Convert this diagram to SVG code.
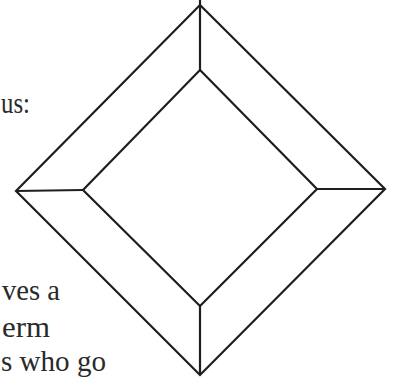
<svg xmlns="http://www.w3.org/2000/svg" width="396" height="377" viewBox="0 0 396 377">
<style>
.ln{fill:none;stroke:#1e1e1e;stroke-width:2.2;stroke-linejoin:miter}
.tx{font-family:"Liberation Serif","Times New Roman",serif;font-size:29px;fill:#2a2a2a}
</style>
<rect width="396" height="377" fill="#ffffff"/>
<g id="diamond">
<polygon class="ln" points="200,5 385,189 200,375 16,191"/>
<polygon class="ln" points="200,70 317,189 200,306 83,190"/>
<g id="connectors">
<line class="ln" x1="200" y1="0" x2="200" y2="70"/>
<line class="ln" x1="385" y1="189" x2="317" y2="189"/>
<line class="ln" x1="200" y1="375" x2="200" y2="306"/>
<line class="ln" x1="16" y1="191" x2="83" y2="190"/>
</g>
</g>
<g id="text">
<text class="tx" x="1" y="113" textLength="29" lengthAdjust="spacingAndGlyphs">us:</text>
<text class="tx" x="2" y="300" textLength="58" lengthAdjust="spacingAndGlyphs">ves a</text>
<text class="tx" x="2" y="337" textLength="48" lengthAdjust="spacingAndGlyphs">erm</text>
<text class="tx" x="1" y="371" textLength="105" lengthAdjust="spacingAndGlyphs">s who go</text>
</g>
</svg>
